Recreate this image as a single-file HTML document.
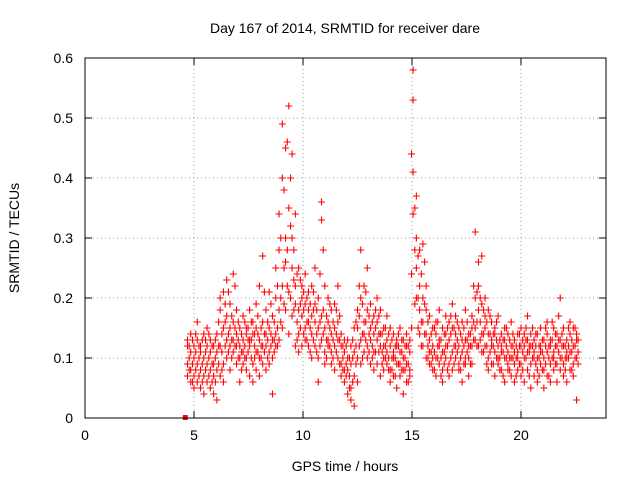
<!DOCTYPE html>
<html><head><meta charset="utf-8"><style>
body{margin:0;background:#fff}
svg text{font-family:"Liberation Sans",sans-serif;font-size:14px;fill:#000}
</style></head><body>
<svg id="chart" width="640" height="480" xmlns="http://www.w3.org/2000/svg">
<text x="345" y="33" text-anchor="middle">Day 167 of 2014, SRMTID for receiver dare</text>
<text x="345" y="471" text-anchor="middle">GPS time / hours</text>
<text transform="translate(19,238) rotate(-90)" text-anchor="middle">SRMTID / TECUs</text>
<g id="grid"></g>
<g id="axes"></g>
<g id="marks"></g>
<rect x="85" y="58" width="521" height="360" fill="none" stroke="#000" stroke-width="1"/>
</svg>
<script>
const xTicks=[0,5,10,15,20];
const yTicks=[0,0.1,0.2,0.3,0.4,0.5,0.6];
const yTickLabels=["0","0.1","0.2","0.3","0.4","0.5","0.6"];
const rows=[
[4.70,.12,.09,.13,.07],[4.85,.08,.11,.06,.14],[5.00,.10,.07,.12,.05],[5.15,.13,.09,.06,.16],
[5.30,.08,.11,.05,.12],[5.45,.07,.14,.10,.04],[5.60,.06,.12,.09,.15],[5.75,.11,.05,.08,.13],
[5.90,.04,.09,.12,.07],[6.05,.08,.14,.03,.11],[6.20,.12,.18,.07,.20],[6.35,.09,.15,.21,.06],
[6.50,.13,.17,.10,.23],[6.65,.15,.12,.19,.08],[6.80,.11,.16,.24,.13],[6.95,.09,.14,.12,.18],
[7.10,.06,.12,.15,.10],[7.25,.13,.09,.17,.11],[7.40,.10,.15,.08,.14],[7.55,.12,.18,.07,.13],
[7.70,.09,.14,.16,.06],[7.85,.11,.08,.15,.19],[8.00,.13,.10,.22,.07],[8.15,.09,.16,.12,.27],
[8.30,.12,.08,.18,.14],[8.45,.15,.11,.21,.09],[8.60,.10,.17,.13,.04],[8.75,.14,.20,.12,.25],
[8.90,.13,.28,.18,.34],[9.05,.15,.40,.22,.49],[9.20,.18,.30,.45,.26],[9.35,.21,.52,.35,.14],
[9.50,.25,.44,.30,.17],[9.65,.19,.34,.22,.12],[9.80,.14,.25,.18,.11],[9.95,.17,.22,.12,.20],
[10.10,.15,.19,.13,.24],[10.25,.12,.18,.16,.21],[10.40,.14,.22,.10,.17],[10.55,.16,.12,.25,.19],
[10.70,.10,.15,.20,.06],[10.85,.13,.33,.17,.36],[11.00,.11,.22,.15,.09],[11.15,.16,.12,.20,.13],
[11.30,.14,.09,.18,.11],[11.45,.12,.19,.08,.15],[11.60,.10,.16,.13,.22],[11.75,.07,.12,.09,.14],
[11.90,.11,.06,.13,.08],[12.05,.08,.04,.10,.13],[12.20,.05,.09,.03,.12],[12.35,.07,.11,.02,.15],
[12.50,.10,.15,.18,.06],[12.65,.13,.28,.20,.09],[12.80,.16,.11,.22,.14],[12.95,.12,.18,.25,.10],
[13.10,.15,.09,.19,.13],[13.25,.11,.17,.14,.08],[13.40,.09,.13,.20,.16],[13.55,.12,.18,.07,.14],
[13.70,.10,.15,.12,.08],[13.85,.13,.09,.17,.11],[14.00,.08,.12,.15,.06],[14.15,.11,.07,.14,.10],
[14.30,.09,.13,.05,.12],[14.45,.07,.11,.15,.09],[14.60,.10,.04,.08,.13],[14.75,.06,.12,.09,.14],
[14.90,.08,.11,.13,.07],[15.05,.34,.53,.41,.58],[15.20,.25,.37,.20,.30],[15.35,.18,.28,.22,.14],
[15.50,.12,.20,.29,.16],[15.65,.14,.10,.18,.22],[15.80,.09,.13,.17,.11],[15.95,.12,.08,.15,.10],
[16.10,.10,.14,.07,.16],[16.25,.13,.09,.18,.12],[16.40,.08,.11,.15,.06],[16.55,.12,.17,.10,.14],
[16.70,.09,.13,.16,.07],[16.85,.11,.15,.08,.19],[17.00,.14,.10,.17,.12],[17.15,.08,.12,.15,.09],
[17.30,.11,.16,.06,.13],[17.45,.13,.09,.18,.10],[17.60,.10,.14,.12,.07],[17.75,.12,.17,.09,.15],
[17.90,.15,.31,.13,.20],[18.05,.18,.26,.12,.22],[18.20,.14,.19,.27,.11],[18.35,.12,.17,.15,.20],
[18.50,.10,.14,.18,.08],[18.65,.13,.09,.16,.12],[18.80,.11,.15,.07,.14],[18.95,.09,.12,.17,.10],
[19.10,.12,.08,.14,.11],[19.25,.10,.15,.06,.13],[19.40,.08,.11,.14,.09],[19.55,.12,.07,.10,.16],
[19.70,.09,.13,.11,.06],[19.85,.11,.08,.14,.10],[20.00,.07,.12,.09,.15],[20.15,.10,.14,.06,.12],
[20.30,.13,.08,.11,.17],[20.45,.09,.12,.05,.14],[20.60,.11,.07,.13,.10],[20.75,.08,.14,.10,.06],
[20.90,.12,.09,.15,.11],[21.05,.10,.05,.13,.08],[21.20,.07,.11,.14,.16],[21.35,.09,.13,.06,.12],
[21.50,.11,.08,.15,.10],[21.65,.06,.12,.09,.14],[21.80,.13,.20,.10,.08],[21.95,.09,.12,.15,.07],
[22.10,.11,.06,.13,.10],[22.25,.08,.14,.11,.16],[22.40,.12,.09,.15,.07],[22.55,.10,.13,.03,.14]
];
const rows2=[
[4.78,.10,.12,.08],[4.93,.09,.13,.06],[5.08,.11,.08,.14],[5.23,.07,.10,.12],[5.38,.09,.13,.06],
[5.53,.11,.08,.13],[5.68,.07,.10,.14],[5.83,.09,.12,.06],[5.98,.10,.06,.13],[6.13,.09,.12,.16],
[6.28,.11,.14,.08],[6.43,.12,.16,.19],[6.58,.14,.11,.21],[6.73,.13,.17,.10],[6.88,.12,.15,.22],
[7.03,.10,.13,.16],[7.18,.11,.14,.08],[7.33,.12,.16,.10],[7.48,.11,.13,.15],[7.63,.10,.13,.16],
[7.78,.12,.10,.14],[7.93,.11,.14,.17],[8.08,.12,.15,.10],[8.23,.11,.14,.21],[8.38,.13,.10,.16],
[8.53,.12,.14,.19],[8.68,.13,.11,.16],[8.83,.15,.22,.12],[8.98,.16,.30,.20],[9.13,.19,.38,.25],
[9.28,.22,.46,.28],[9.43,.20,.40,.32],[9.58,.18,.28,.23],[9.73,.16,.24,.13],[9.88,.15,.19,.23],
[10.03,.14,.18,.21],[10.18,.16,.20,.13],[10.33,.15,.19,.11],[10.48,.13,.18,.21],[10.63,.14,.18,.11],
[10.78,.12,.24,.16],[10.93,.14,.28,.18],[11.08,.13,.17,.10],[11.23,.12,.15,.19],[11.38,.13,.10,.16],
[11.53,.11,.14,.18],[11.68,.09,.13,.17],[11.83,.10,.12,.08],[11.98,.09,.07,.12],[12.13,.07,.10,.05],
[12.28,.06,.10,.13],[12.43,.09,.12,.16],[12.58,.12,.17,.22],[12.73,.14,.19,.10],[12.88,.13,.16,.21],
[13.03,.14,.11,.17],[13.18,.12,.16,.10],[13.33,.11,.15,.18],[13.48,.11,.14,.17],[13.63,.11,.14,.09],
[13.78,.12,.15,.10],[13.93,.10,.14,.08],[14.08,.10,.13,.08],[14.23,.10,.12,.07],[14.38,.09,.12,.14],
[14.53,.08,.11,.13],[14.68,.08,.10,.12],[14.83,.09,.12,.06],[14.98,.15,.24,.44],[15.13,.28,.35,.19],
[15.28,.20,.27,.15],[15.43,.16,.24,.12],[15.58,.14,.19,.26],[15.73,.12,.16,.10],[15.88,.11,.14,.09],
[16.03,.11,.15,.08],[16.18,.12,.10,.16],[16.33,.10,.13,.07],[16.48,.11,.14,.09],[16.63,.12,.15,.08],
[16.78,.10,.14,.17],[16.93,.12,.15,.09],[17.08,.11,.13,.16],[17.23,.10,.14,.08],[17.38,.12,.15,.09],
[17.53,.11,.13,.16],[17.68,.12,.14,.09],[17.83,.13,.16,.22],[17.98,.16,.21,.12],[18.13,.16,.20,.13],
[18.28,.14,.18,.11],[18.43,.12,.16,.09],[18.58,.11,.14,.17],[18.73,.12,.14,.09],[18.88,.10,.13,.16],
[19.03,.10,.13,.08],[19.18,.11,.13,.07],[19.33,.10,.12,.15],[19.48,.10,.13,.08],[19.63,.10,.12,.14],
[19.78,.10,.12,.07],[19.93,.09,.12,.14],[20.08,.11,.13,.08],[20.23,.10,.13,.15],[20.38,.11,.12,.07],
[20.53,.10,.12,.15],[20.68,.09,.12,.14],[20.83,.10,.12,.07],[20.98,.11,.13,.08],[21.13,.09,.12,.15],
[21.28,.10,.12,.07],[21.43,.10,.13,.16],[21.58,.09,.12,.14],[21.73,.11,.13,.17],[21.88,.10,.12,.14],
[22.03,.10,.12,.08],[22.18,.10,.12,.15],[22.33,.11,.13,.08],[22.48,.10,.12,.15],[22.62,.11,.13,.09]
];
const zeroMarker=[4.6,0];
const NS="http://www.w3.org/2000/svg";
const X0=85,X1=606,Y0=418,Y1=58,XMAX=23.9,YMAX=0.6;
function xs(v){return X0+(X1-X0)*v/XMAX;}
function ys(v){return Y0-(Y0-Y1)*v/YMAX;}
function mk(tag,a,parent){const e=document.createElementNS(NS,tag);for(const k in a)e.setAttribute(k,a[k]);parent.appendChild(e);return e;}
const grid=document.getElementById('grid'),axes=document.getElementById('axes'),marks=document.getElementById('marks');
xTicks.forEach(t=>{const x=xs(t);
 if(t>0){const g=mk('line',{x1:x,x2:x,y1:Y0,y2:Y1,stroke:'#a0a0a0','stroke-dasharray':'1,3'},grid);
 
 }
 mk('line',{x1:x,x2:x,y1:Y0,y2:Y0-7,stroke:'#000'},axes);
 mk('line',{x1:x,x2:x,y1:Y1,y2:Y1+7,stroke:'#000'},axes);
 const l=mk('text',{x:x,y:Y0+22,'text-anchor':'middle'},axes);l.textContent=t;
 
 
});
yTicks.forEach((t,i)=>{const y=ys(t);
 if(t>0&&t<YMAX){const g=mk('line',{x1:X0,x2:X1,y1:y,y2:y,stroke:'#a0a0a0','stroke-dasharray':'1,3'},grid);
 
 }
 mk('line',{x1:X0,x2:X0+7,y1:y,y2:y,stroke:'#000'},axes);
 mk('line',{x1:X1,x2:X1-7,y1:y,y2:y,stroke:'#000'},axes);
 const l=mk('text',{x:X0-12,y:y+5,'text-anchor':'end'},axes);l.textContent=yTickLabels[i];
 
 
});
let d='';
function addRows(rs){rs.forEach(r=>{const x=xs(r[0]);for(let j=1;j<r.length;j++){const y=ys(r[j]);
 d+=`M${x-3.5},${y}h7M${x},${y-3.5}v7`;}});}
addRows(rows);addRows(rows2);
const p=mk('path',{d:d,stroke:'#ff0000','stroke-width':1.1,fill:'none'},marks);


const z=mk('rect',{x:xs(zeroMarker[0])-2.5,y:ys(zeroMarker[1])-3,width:5,height:5,fill:'#ff0000'},marks);


</script>
</body></html>
